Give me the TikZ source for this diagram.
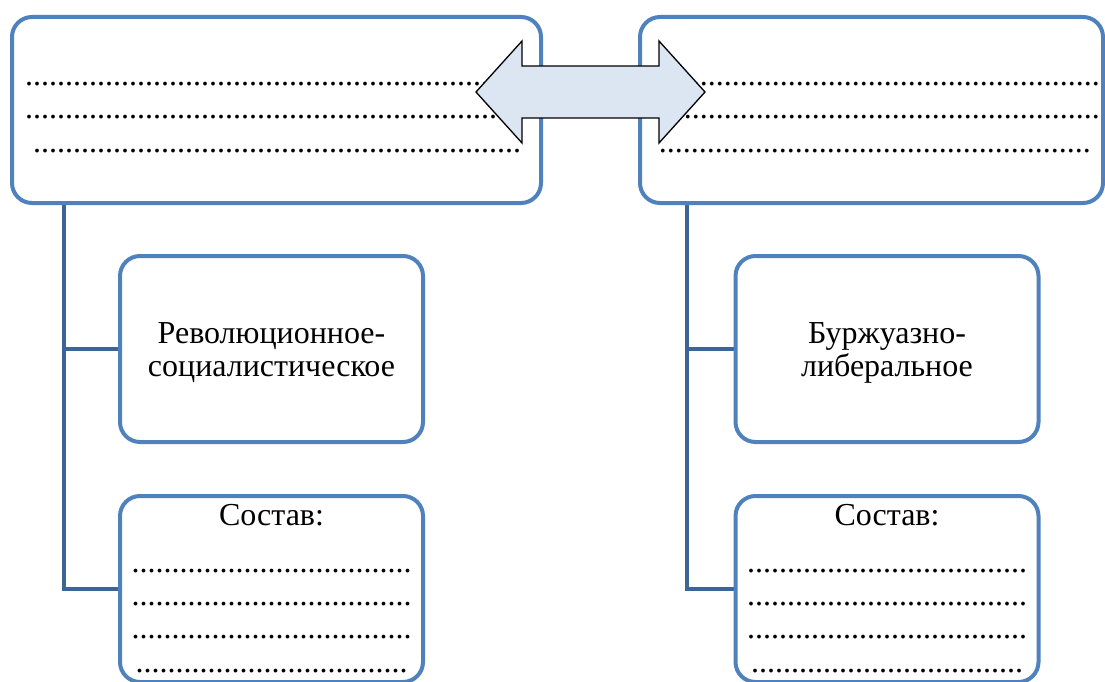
\documentclass[tikz,border=0pt]{standalone}
\usepackage{fontspec}
\setmainfont{Liberation Serif}
\usetikzlibrary{backgrounds}
\ExplSyntaxOn
\NewDocumentCommand\pdots{m}{\prg_replicate:nn{#1}{.}}
\ExplSyntaxOff
\definecolor{boxblue}{HTML}{4F81BD}
\definecolor{connblue}{HTML}{3E6598}
\definecolor{arrowfill}{HTML}{DCE6F2}
\tikzset{
  frame/.style={draw=boxblue, line width=4pt, rounded corners=20pt, fill=white,
    inner sep=0pt, outer sep=0pt},
  topframe/.style={frame, minimum height=186pt},
  subframe/.style={frame, minimum width=303pt, minimum height=186pt},
  conn/.style={draw=connblue, line width=4pt},
  txt/.style={font=\fontsize{32}{33}\selectfont, inner sep=0pt, align=center},
  dotrow/.style={font=\fontsize{32}{33}\selectfont, inner sep=0pt},
  dblarrow/.style={draw=black, line width=1.3pt, fill=arrowfill, line join=miter},
}
\begin{document}
\begin{tikzpicture}[x=1pt,y=-1pt]
\useasboundingbox (0,0) rectangle (1105,682);
% boxes
\node[topframe, minimum width=529pt] (top1) at (276.5,110) {};
\node[topframe, minimum width=463pt] (top2) at (871.5,110) {};
\node[subframe] (mid1) at (271.5,349) {};
\node[subframe] (mid2) at (887,349) {};
\node[subframe] (bot1) at (271.5,589) {};
\node[subframe] (bot2) at (887,589) {};
% middle box texts
\node[txt] (mid1t) at ([yshift=-4pt]mid1.center) {Революционное-\\социалистическое};
\node[txt] (mid2t) at ([yshift=-4pt]mid2.center) {Буржуазно-\\либеральное};
% connectors
\coordinate (sp1) at ([xshift=52pt]top1.south west);
\coordinate (sp2) at ([xshift=47pt]top2.south west);
\begin{scope}[on background layer]
\draw[conn] (sp1) |- (bot1.west);
\draw[conn] (sp1 |- mid1.west) -- (mid1.west);
\draw[conn] (sp2) |- (bot2.west);
\draw[conn] (sp2 |- mid2.west) -- (mid2.west);
\end{scope}
% dotted rows in top boxes
\node[dotrow, anchor=base west] (t1r1) at (25,86) {\pdots{62}};
\node[dotrow, anchor=base west] (t1r2) at (25,119) {\pdots{62}};
\node[dotrow, anchor=base west] (t1r3) at (33,152) {\pdots{61}};
\node[dotrow, anchor=base east] (t2r1) at (1100,86) {\pdots{55}};
\node[dotrow, anchor=base east] (t2r2) at (1100,119) {\pdots{55}};
\node[dotrow, anchor=base east] (t2r3) at (1091,152) {\pdots{54}};
% bottom boxes content
\node[dotrow, anchor=base] (s1) at (271.5,525) {Состав:};
\node[dotrow, anchor=base] (b1r1) at (271.5,572) {\pdots{35}};
\node[dotrow, anchor=base] (b1r2) at (271.5,605) {\pdots{35}};
\node[dotrow, anchor=base] (b1r3) at (271.5,638) {\pdots{35}};
\node[dotrow, anchor=base] (b1r4) at (271.5,672) {\pdots{34}};
\node[dotrow, anchor=base] (s2) at (887,525) {Состав:};
\node[dotrow, anchor=base] (b2r1) at (887,572) {\pdots{35}};
\node[dotrow, anchor=base] (b2r2) at (887,605) {\pdots{35}};
\node[dotrow, anchor=base] (b2r3) at (887,638) {\pdots{35}};
\node[dotrow, anchor=base] (b2r4) at (887,672) {\pdots{34}};
% double arrow
\draw[dblarrow] (476,92) -- (522,41) -- (522,66) -- (659,66) -- (659,41) -- (705,92)
  -- (659,143) -- (659,118) -- (522,118) -- (522,143) -- cycle;
\end{tikzpicture}
\end{document}
